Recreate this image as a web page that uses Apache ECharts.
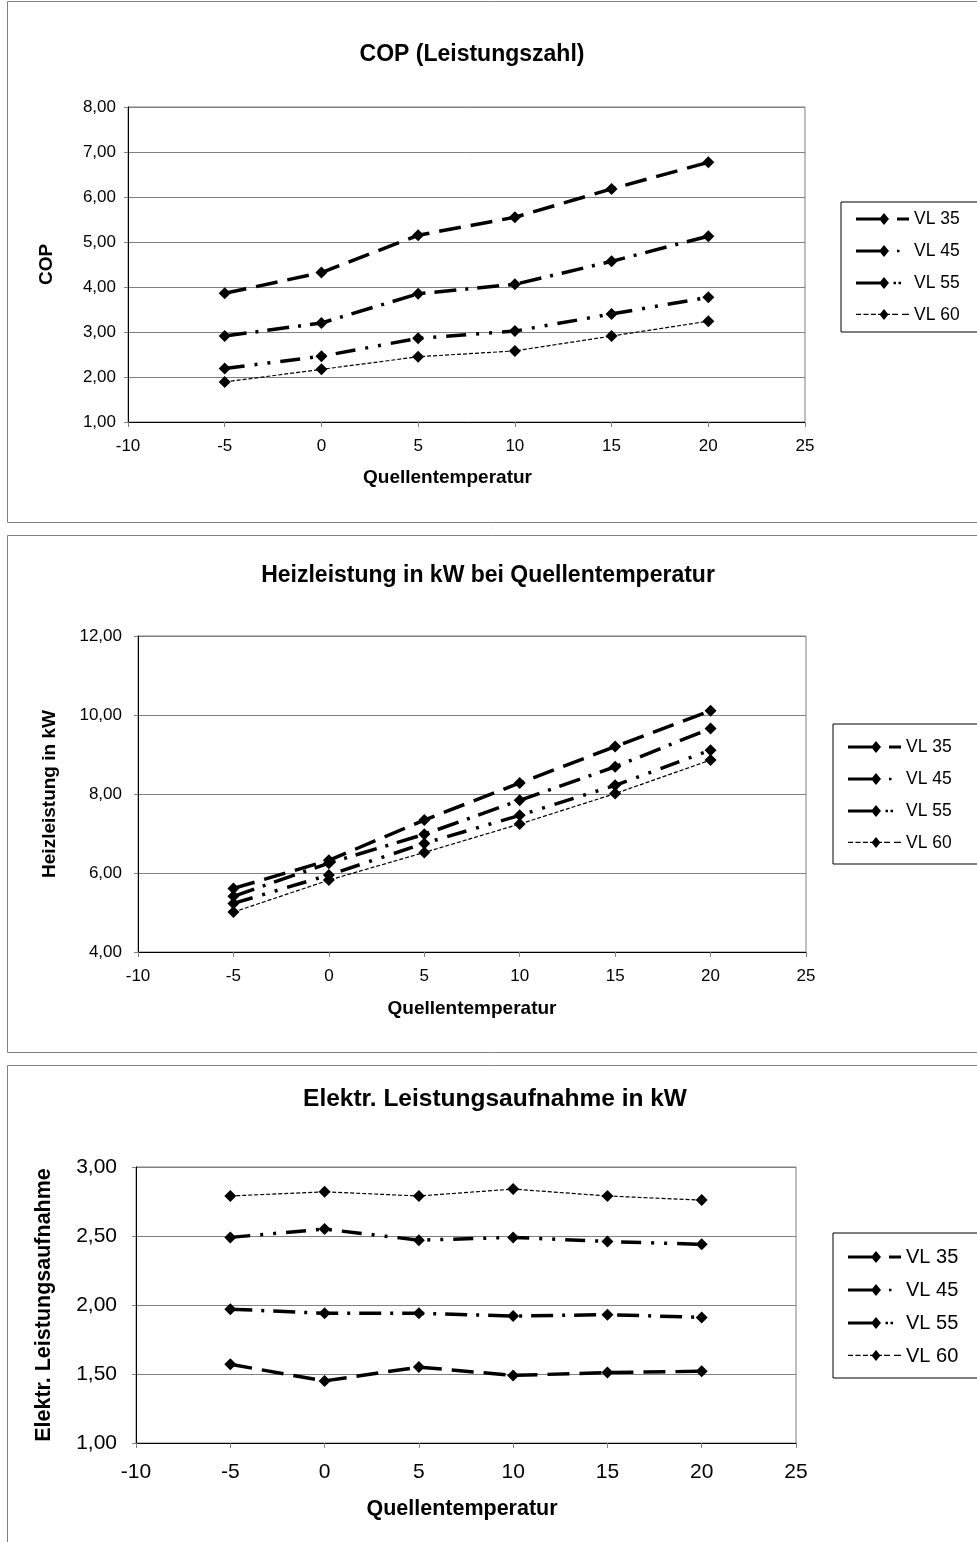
<!DOCTYPE html>
<html>
<head>
<meta charset="utf-8">
<script src="https://cdn.jsdelivr.net/npm/echarts@6/dist/echarts.min.js"></script>
<style>
html,body{margin:0;padding:0;background:#fff;}
#c{width:977px;height:1542px;}
</style>
</head>
<body>
<div id="c"></div>
<script>
// ---- data ----
const temps = [-5, 0, 5, 10, 15, 20];
const seriesNames = ['VL 35', 'VL 45', 'VL 55', 'VL 60'];

const cop35 = [3.86, 4.32, 5.15, 5.55, 6.18, 6.77];
const cop45 = [2.91, 3.20, 3.85, 4.06, 4.57, 5.13];
const cop55 = [2.19, 2.46, 2.86, 3.02, 3.40, 3.77];
const cop60 = [1.89, 2.17, 2.45, 2.58, 2.91, 3.24];

const heiz35 = [5.61, 6.32, 7.34, 8.28, 9.20, 10.11];
const heiz45 = [5.41, 6.25, 6.98, 7.84, 8.69, 9.66];
const heiz55 = [5.23, 5.95, 6.75, 7.46, 8.22, 9.11];
const heiz60 = [5.01, 5.82, 6.52, 7.24, 8.01, 8.86];

const el35 = [1.57, 1.45, 1.55, 1.49, 1.51, 1.52];
const el45 = [1.97, 1.94, 1.94, 1.92, 1.93, 1.91];
const el55 = [2.49, 2.55, 2.47, 2.49, 2.46, 2.44];
const el60 = [2.79, 2.82, 2.79, 2.84, 2.79, 2.76];

const titles = ['COP (Leistungszahl)', 'Heizleistung in kW bei Quellentemperatur', 'Elektr. Leistungsaufnahme in kW'];
const yNames = ['COP', 'Heizleistung in kW', 'Elektr. Leistungsaufnahme'];
const xName = 'Quellentemperatur';

// ---- styling ----
const FONT = '"Liberation Sans", Arial, sans-serif';
const lineStyles = [
  {width: 3.5, type: [22, 10]},
  {width: 3.5, type: [22, 9, 3, 9]},
  {width: 3.5, type: [20, 10, 3, 10, 3, 10]},
  {width: 1.2, type: [4, 2]}
];
// legend icons (Excel-like: solid lead-in, diamond, series dash pattern)
const DIAMOND = 'M28 0 L33 6 L28 12 L23 6 Z ';
const BAR = 'M0 4.5 L24 4.5 L24 7.5 L0 7.5 Z ';
const END = 'M53 6 L53 6 ';
const rect = (x0, x1, y0, y1) => `M${x0} ${y0} L${x1} ${y0} L${x1} ${y1} L${x0} ${y1} Z `;
const legendIcons = [
  'path://' + BAR + DIAMOND + rect(41, 53, 4.5, 7.5),
  'path://' + BAR + DIAMOND + rect(41, 43.5, 4.8, 7.2) + END,
  'path://' + BAR + DIAMOND + rect(37.5, 40, 4.8, 7.2) + rect(42.5, 45, 4.8, 7.2) + END,
  'path://M0 12 L0 12 ' + rect(0, 5, 5.4, 6.6) + rect(7.5, 12.5, 5.4, 6.6) + rect(15, 20, 5.4, 6.6) + rect(22, 34, 5.4, 6.6) + 'M28 1 L32.5 6 L28 11 L23.5 6 Z ' + rect(36, 42, 5.4, 6.6) + rect(46, 53, 5.4, 6.6)
];

const fmt = v => v.toFixed(2).replace('.', ',');
const pair = arr => temps.map((t, i) => [t, arr[i]]);

const chartData = [
  [cop35, cop45, cop55, cop60],
  [heiz35, heiz45, heiz55, heiz60],
  [el35, el45, el55, el60]
];

const grids = [
  {left: 128, top: 107, width: 677, height: 315},
  {left: 138, top: 636, width: 668, height: 316},
  {left: 136, top: 1167, width: 660, height: 276}
];
const yRanges = [
  {min: 1, max: 8, interval: 1},
  {min: 4, max: 12, interval: 2},
  {min: 1, max: 3, interval: 0.5}
];
const tickFont = [17, 17, 21];
const nameFont = [19, 19, 21.5];
const yNameGap = [72, 79, 81];
const xNameGap = [46, 47, 55];
const xNamePad = [[0, 38, 0, 0], [0, 0, 0, 0], [0, 8, 0, 0]];
const yLabelMargin = [12, 16, 19];
const xLabelMargin = [16, 16, 19];

const chart = echarts.init(document.getElementById('c'), null, {renderer: 'canvas'});

const xAxes = [], yAxes = [], series = [];
for (let g = 0; g < 3; g++) {
  xAxes.push({
    gridIndex: g, type: 'value', min: -10, max: 25, interval: 5,
    name: xName, nameLocation: 'middle', nameGap: xNameGap[g],
    nameTextStyle: {fontFamily: FONT, fontWeight: 'bold', fontSize: nameFont[g], color: '#000', padding: xNamePad[g]},
    axisLine: {show: true, onZero: false, lineStyle: {color: '#000', width: 1}},
    axisTick: {show: true, inside: false, length: 5, lineStyle: {color: '#808080'}},
    axisLabel: {fontFamily: FONT, fontSize: tickFont[g], color: '#000', margin: xLabelMargin[g]},
    splitLine: {show: false}
  });
  yAxes.push({
    gridIndex: g, type: 'value', min: yRanges[g].min, max: yRanges[g].max, interval: yRanges[g].interval,
    name: yNames[g], nameLocation: 'middle', nameGap: yNameGap[g], nameRotate: 90,
    nameTextStyle: {fontFamily: FONT, fontWeight: 'bold', fontSize: nameFont[g], color: '#000'},
    axisLine: {show: true, onZero: false, lineStyle: {color: '#000', width: 1}},
    axisTick: {show: true, inside: false, length: 4, lineStyle: {color: '#808080'}},
    axisLabel: {fontFamily: FONT, fontSize: tickFont[g], color: '#000', margin: yLabelMargin[g], formatter: fmt},
    splitLine: {show: true, lineStyle: {color: '#808080', width: 1}}
  });
  for (let s = 0; s < 4; s++) {
    series.push({
      type: 'line', name: seriesNames[s], xAxisIndex: g, yAxisIndex: g,
      data: pair(chartData[g][s]),
      symbol: 'diamond', symbolSize: [12, 12],
      itemStyle: {color: '#000'},
      lineStyle: Object.assign({color: '#000'}, lineStyles[s]),
      showSymbol: true, animation: false, z: 3 + s
    });
  }
}

const legendData = seriesNames.map((n, i) => ({name: n, icon: legendIcons[i]}));
const legendBase = {
  orient: 'vertical', itemWidth: 53, itemHeight: 12, itemGap: 14,
  symbolKeepAspect: false,
  backgroundColor: '#fff', borderColor: '#000', borderWidth: 1,
  padding: [8, 40, 8, 15], data: legendData,
  itemStyle: {color: '#000', borderWidth: 0},
  textStyle: {fontFamily: FONT, fontSize: 17.5, color: '#000'},
  selectedMode: false
};

const option = {
  backgroundColor: '#fff',
  animation: false,
  title: [
    {text: titles[0], left: 472, top: 43, textAlign: 'center', padding: 0,
     textStyle: {fontFamily: FONT, fontWeight: 'bold', fontSize: 23, color: '#000'}},
    {text: titles[1], left: 488, top: 564, textAlign: 'center', padding: 0,
     textStyle: {fontFamily: FONT, fontWeight: 'bold', fontSize: 23, color: '#000'}},
    {text: titles[2], left: 495, top: 1087, textAlign: 'center', padding: 0,
     textStyle: {fontFamily: FONT, fontWeight: 'bold', fontSize: 24.5, color: '#000'}}
  ],
  legend: [
    Object.assign({}, legendBase, {left: 841, top: 202}),
    Object.assign({}, legendBase, {left: 833, top: 724, padding: [14, 40, 12, 15]}),
    Object.assign({}, legendBase, {left: 833, top: 1233, itemGap: 13, padding: [14, 40, 12, 15],
      textStyle: {fontFamily: FONT, fontSize: 20, color: '#000'}})
  ],
  grid: grids.map(g => Object.assign({show: true, borderColor: '#808080', borderWidth: 1, backgroundColor: 'transparent'}, g)),
  xAxis: xAxes,
  yAxis: yAxes,
  series: series,
  graphic: [
    {type: 'rect', shape: {x: 7.5, y: 1.5, width: 1000, height: 521}, style: {fill: 'none', stroke: '#808080', lineWidth: 1}, silent: true, z: -10},
    {type: 'rect', shape: {x: 7.5, y: 535.5, width: 1000, height: 517}, style: {fill: 'none', stroke: '#808080', lineWidth: 1}, silent: true, z: -10},
    {type: 'rect', shape: {x: 7.5, y: 1065.5, width: 1000, height: 500}, style: {fill: 'none', stroke: '#808080', lineWidth: 1}, silent: true, z: -10}
  ]
};
chart.setOption(option);
</script>
</body>
</html>
